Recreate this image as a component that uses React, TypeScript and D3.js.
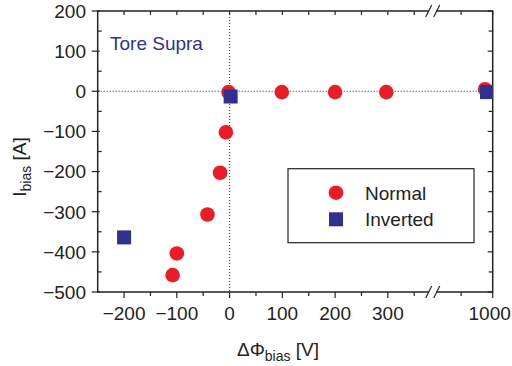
import React from "react";
import * as d3 from "d3";

const normalX = [-2, -7, -18, -42, -100, -108, 99, 200, 297, 988];
const normalY = [-2, -102, -203, -307, -404, -458, -2, -2, -2, 5];
const invertedX = [-200, 2, 991];
const invertedY = [-364, -13, -2];

const yMajor = [200, 100, 0, -100, -200, -300, -400, -500];
const yMinor = [150, 50, -50, -150, -250, -350, -450];
const xMajorLeft = [-200, -100, 0, 100, 200, 300];
const xMinorLeft = [-150, -50, 50, 150, 250, 350];
const xMajorRight = [1000];
const xMinorRight = [950];

const RED = "#ed1c24";
const BLUE = "#2e3192";
const FONT = "'Liberation Sans', Arial, Helvetica, sans-serif";

const left = 97.7;
const right = 492.7;
const top = 11;
const bottom = 292;
const breakX = 432.7;

const xL = d3.scaleLinear().domain([-250, 385]).range([left, breakX]);
const xR = d3.scaleLinear().domain([905, 1000]).range([breakX, right]);
const xs = (v: number) => (v > 600 ? xR(v) : xL(v));
const y = d3.scaleLinear().domain([-500, 200]).range([bottom, top]);

export default function App() {
  const normal = normalX.map((v, i) => [v, normalY[i]]);
  const inverted = invertedX.map((v, i) => [v, invertedY[i]]);
  const xMajor = [...xMajorLeft, ...xMajorRight];
  const xMinor = [...xMinorLeft, ...xMinorRight];
  const sq = 14;
  const breakMark = (yy: number, key: string) => (
    <g key={key}>
      <rect x={breakX - 4} y={yy - 2} width={8} height={4} fill="white" />
      <line x1={breakX - 7} y1={yy + 6} x2={breakX - 1} y2={yy - 6} stroke="#222" strokeWidth={1.2} />
      <line x1={breakX + 1} y1={yy + 6} x2={breakX + 7} y2={yy - 6} stroke="#222" strokeWidth={1.2} />
    </g>
  );
  return (
    <svg width={512} height={366} style={{ position: "absolute", left: 0, top: 0 }} fontFamily={FONT}>
      <defs>
        <clipPath id="plot">
          <rect x={left} y={top} width={right - left} height={bottom - top} />
        </clipPath>
      </defs>
      <rect width={512} height={366} fill="white" />
      {/* dotted reference lines */}
      <line x1={left} x2={right} y1={y(0)} y2={y(0)} stroke="#333" strokeWidth={1} strokeDasharray="1,2" />
      <line x1={xL(0)} x2={xL(0)} y1={top} y2={bottom} stroke="#333" strokeWidth={1} strokeDasharray="1,2" />
      {/* frame */}
      <rect x={left} y={top} width={right - left} height={bottom - top} fill="none" stroke="#222" strokeWidth={1.5} />
      {/* y ticks */}
      {yMajor.map((v) => (
        <g key={"ym" + v}>
          <line x1={left - 6} x2={left + 2} y1={y(v)} y2={y(v)} stroke="#222" strokeWidth={1.2} />
          <line x1={right - 5} x2={right} y1={y(v)} y2={y(v)} stroke="#222" strokeWidth={1.2} />
          <text x={86} y={y(v)} dy="0.36em" textAnchor="end" fontSize={19} fill="#222">
            {v < 0 ? "\u2212" + Math.abs(v) : String(v)}
          </text>
        </g>
      ))}
      {yMinor.map((v) => (
        <g key={"yn" + v}>
          <line x1={left} x2={left + 4} y1={y(v)} y2={y(v)} stroke="#222" strokeWidth={1.2} />
          <line x1={right - 4} x2={right} y1={y(v)} y2={y(v)} stroke="#222" strokeWidth={1.2} />
        </g>
      ))}
      {/* x ticks */}
      {xMajor.map((v) => (
        <g key={"xm" + v}>
          <line x1={xs(v)} x2={xs(v)} y1={bottom} y2={bottom + 6} stroke="#222" strokeWidth={1.2} />
          <line x1={xs(v)} x2={xs(v)} y1={top} y2={top + 4} stroke="#222" strokeWidth={1.2} />
          <text x={v === 1000 ? xs(v) - 3 : xs(v)} y={320} textAnchor="middle" fontSize={19} fill="#222">
            {v < 0 ? "\u2212" + Math.abs(v) : String(v)}
          </text>
        </g>
      ))}
      {xMinor.map((v) => (
        <g key={"xn" + v}>
          <line x1={xs(v)} x2={xs(v)} y1={bottom} y2={bottom + 4} stroke="#222" strokeWidth={1.2} />
          <line x1={xs(v)} x2={xs(v)} y1={top} y2={top + 4} stroke="#222" strokeWidth={1.2} />
        </g>
      ))}
      {breakMark(top, "bt")}
      {breakMark(bottom, "bb")}
      {/* data */}
      <g clipPath="url(#plot)">
        {normal.map(([a, b], i) => (
          <circle key={"n" + i} cx={xs(a)} cy={y(b)} r={7.3} fill={RED} />
        ))}
        {inverted.map(([a, b], i) => (
          <rect key={"i" + i} x={xs(a) - sq / 2} y={y(b) - sq / 2} width={sq} height={sq} fill={BLUE} />
        ))}
      </g>
      {/* annotation */}
      <text x={110} y={50} fontSize={19} fill={BLUE}>Tore Supra</text>
      {/* legend */}
      <rect x={288} y={168.7} width={186} height={74} fill="white" stroke="#222" strokeWidth={1.2} />
      <circle cx={336} cy={192.7} r={7.3} fill={RED} />
      <text x={365} y={192.7} dy="0.36em" fontSize={19} fill="#222">Normal</text>
      <rect x={336 - 7} y={219.3 - 7} width={14} height={14} fill={BLUE} />
      <text x={365} y={219.3} dy="0.36em" fontSize={19} fill="#222">Inverted</text>
      {/* axis labels */}
      <text x={278} y={356} textAnchor="middle" fontSize={19} fill="#222">
        {"\u0394\u03A6"}
        <tspan fontSize={14} dy={5}>bias</tspan>
        <tspan dy={-5}> [V]</tspan>
      </text>
      <text transform="translate(26,167) rotate(-90)" textAnchor="middle" fontSize={19} fill="#222">
        I<tspan fontSize={14} dy={5}>bias</tspan>
        <tspan dy={-5}> [A]</tspan>
      </text>
    </svg>
  );
}
